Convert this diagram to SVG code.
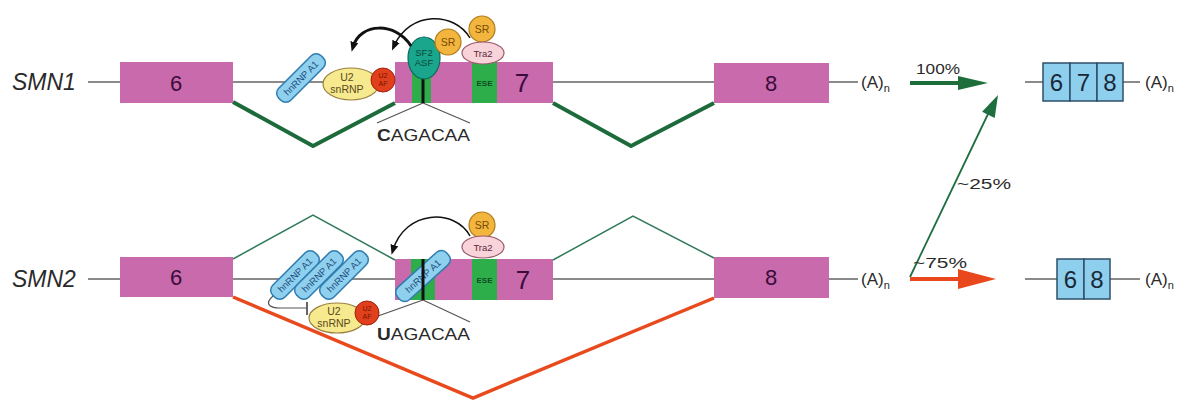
<svg xmlns="http://www.w3.org/2000/svg" width="1194" height="401" viewBox="0 0 1194 401">
  <defs>
    <style>
      text { font-family: "Liberation Sans", Arial, sans-serif; }
      .gene { font-size: 23px; font-style: italic; fill: #2a2a2a; }
      .exon { fill: #c86aab; }
      .num { font-size: 22px; fill: #3a0c3a; text-anchor: middle; }
      .num7 { font-size: 26px; fill: #3a0c3a; text-anchor: middle; }
      .stripe { fill: #2eae4b; }
      .ese { font-size: 8px; fill: #0d4f1f; text-anchor: middle; font-weight: bold; }
      .intron { stroke: #8a8a8a; stroke-width: 2; fill: none; }
      .polyA { font-size: 17px; fill: #2a2a2a; }
      .pct { font-size: 15px; fill: #2a2a2a; }
      .mrna { fill: #8ecfee; stroke: #2c4f6a; stroke-width: 1.5; }
      .mnum { font-size: 24px; fill: #1b2838; text-anchor: middle; }
      .hn { fill: #8fd0ee; stroke: #2f7db0; stroke-width: 1.5; }
      .hnt { font-size: 9.5px; fill: #1d4f80; text-anchor: middle; }
      .u2 { fill: #f6e98e; stroke: #9a8040; stroke-width: 1.2; }
      .u2t { font-size: 10.5px; fill: #5a4a20; text-anchor: middle; }
      .af { fill: #e0401c; stroke: #a02010; stroke-width: 1; }
      .aft { font-size: 7px; fill: #7a1500; text-anchor: middle; }
      .sf2 { fill: #1aa58d; stroke: #0d6b5a; stroke-width: 1.2; }
      .sf2t { font-size: 9.5px; fill: #0a4a3a; text-anchor: middle; }
      .sr { fill: #f2b53e; stroke: #b07a1a; stroke-width: 1.2; }
      .srt { font-size: 10.5px; fill: #7a4a00; text-anchor: middle; }
      .tra { fill: #f9d3da; stroke: #9a5a6a; stroke-width: 1.2; }
      .trat { font-size: 9.5px; fill: #5a2a3a; text-anchor: middle; }
      .stem { stroke: #111; stroke-width: 3; }
      .thin { stroke: #555; stroke-width: 1.2; fill: none; }
      .seq { font-size: 16px; fill: #2a2a2a; }
      .inc { stroke: #1d6b3a; stroke-width: 4; fill: none; stroke-linejoin: miter; }
      .alt { stroke: #2f7a58; stroke-width: 1.5; fill: none; }
      .skip { stroke: #e8491d; stroke-width: 3.5; fill: none; }
      .act { stroke: #111; fill: none; marker-end: url(#head); }
    </style>
    <marker id="head" viewBox="0 0 10 10" refX="5" refY="5" markerWidth="10" markerHeight="10" markerUnits="userSpaceOnUse" orient="auto">
      <path d="M0,1 L10,5 L0,9 Z" fill="#111"/>
    </marker>
  </defs>

  <rect width="1194" height="401" fill="#ffffff"/>

  <!-- pre-mRNA backbones -->
  <g id="backbones">
    <line class="intron" x1="88" y1="82" x2="858" y2="82"/>
    <line class="intron" x1="88" y1="279" x2="858" y2="279"/>
  </g>

  <!-- splice paths and isoform arrows -->
  <g id="connectors">
    <polyline class="inc" points="233,102 313,146 395,103"/>
    <polyline class="inc" points="553,103 631,146 714,103"/>
    <polyline class="alt" points="233,259 313,215 395,260"/>
    <polyline class="alt" points="553,260 633,216 714,258"/>
    <polyline class="skip" points="233,297 473,398 714,298"/>
    <!-- SMN1 -> full length -->
    <line x1="910" y1="83" x2="962" y2="83" stroke="#1d6e3a" stroke-width="4"/>
    <polygon points="958,76 988,83 958,90" fill="#1d6e3a"/>
    <!-- SMN2 -> full length -->
    <line x1="910" y1="277" x2="988" y2="114" stroke="#1f6e3f" stroke-width="1.8"/>
    <polygon points="998,95 994.7,117.9 982.1,111.7" fill="#1f6e3f"/>
    <!-- SMN2 -> delta7 -->
    <line x1="910" y1="279" x2="962" y2="279" stroke="#e8481c" stroke-width="4"/>
    <polygon points="958,269 996,279 958,289" fill="#e8481c"/>
  </g>

  <!-- SMN1 gene -->
  <g id="smn1">
    <text class="gene" x="12" y="90">SMN1</text>
    <g id="smn1-exon6">
      <rect class="exon" x="120" y="62" width="113" height="41"/>
      <text class="num" x="176" y="91">6</text>
    </g>
    <g id="smn1-exon7">
      <rect class="exon" x="395" y="62" width="158" height="41"/>
      <rect class="stripe" x="412" y="62" width="19" height="41"/>
      <rect class="stripe" x="472" y="62" width="25" height="41"/>
      <text class="ese" x="484.5" y="86">ESE</text>
      <text class="num7" x="522" y="92">7</text>
    </g>
    <g id="smn1-exon8">
      <rect class="exon" x="714" y="63" width="115" height="40"/>
      <text class="num" x="771" y="91">8</text>
    </g>
    <text class="polyA" x="861" y="88">(A)<tspan font-size="11" dy="4">n</tspan></text>
    <text class="pct" x="916" y="74" textLength="44" lengthAdjust="spacingAndGlyphs">100%</text>
  </g>

  <!-- SMN1 splicing factors -->
  <g id="smn1-factors">
    <g id="smn1-hnrnp" transform="translate(301,78) rotate(-45)">
      <rect class="hn" x="-30" y="-8.5" width="60" height="17" rx="7"/>
      <text class="hnt" x="0" y="3.5">hnRNP A1</text>
    </g>
    <g id="smn1-u2snrnp">
      <ellipse class="u2" cx="351" cy="84" rx="28" ry="16"/>
      <text class="u2t" x="347" y="81">U2</text>
      <text class="u2t" x="347" y="93">snRNP</text>
    </g>
    <g id="smn1-u2af">
      <circle class="af" cx="383" cy="80" r="12"/>
      <text class="aft" x="383" y="78">U2</text>
      <text class="aft" x="383" y="86">AF</text>
    </g>
    <g id="smn1-sf2">
      <line class="thin" x1="423" y1="103" x2="377" y2="123"/>
      <line class="thin" x1="423" y1="103" x2="470" y2="123"/>
      <line class="stem" x1="423" y1="78" x2="423" y2="103"/>
      <ellipse class="sf2" cx="424" cy="58" rx="16" ry="21"/>
      <text class="sf2t" x="424" y="56">SF2</text>
      <text class="sf2t" x="424" y="66">ASF</text>
      <text class="seq" x="377" y="141" textLength="93" lengthAdjust="spacingAndGlyphs"><tspan font-weight="bold">C</tspan>AGACAA</text>
    </g>
    <g id="smn1-sr">
      <circle class="sr" cx="448" cy="42" r="13"/>
      <text class="srt" x="448" y="46">SR</text>
    </g>
    <g id="smn1-tra2">
      <circle class="sr" cx="482" cy="29" r="13"/>
      <text class="srt" x="482" y="33">SR</text>
      <ellipse class="tra" cx="483" cy="53" rx="21" ry="11"/>
      <text class="trat" x="483" y="56.5">Tra2</text>
    </g>
    <path class="act" stroke-width="1.5" d="M470,38 C455,12 410,10 394,46"/>
    <path class="act" stroke-width="3" d="M411,46 C396,22 360,22 353,47"/>
  </g>

  <!-- SMN2 gene -->
  <g id="smn2">
    <text class="gene" x="12" y="287">SMN2</text>
    <g id="smn2-exon6">
      <rect class="exon" x="120" y="257" width="113" height="40"/>
      <text class="num" x="176" y="285">6</text>
    </g>
    <g id="smn2-exon7">
      <rect class="exon" x="395" y="259" width="158" height="41"/>
      <rect class="stripe" x="411" y="259" width="24" height="41"/>
      <rect class="stripe" x="472" y="259" width="25" height="41"/>
      <text class="ese" x="484.5" y="283">ESE</text>
      <text class="num7" x="523" y="289">7</text>
    </g>
    <g id="smn2-exon8">
      <rect class="exon" x="714" y="257" width="115" height="41"/>
      <text class="num" x="771" y="285">8</text>
    </g>
    <text class="polyA" x="861" y="285">(A)<tspan font-size="11" dy="4">n</tspan></text>
    <text class="pct" x="913" y="268" textLength="54" lengthAdjust="spacingAndGlyphs">~75%</text>
    <text class="pct" x="957" y="189" textLength="54" lengthAdjust="spacingAndGlyphs">~25%</text>
  </g>

  <!-- SMN2 splicing factors -->
  <g id="smn2-factors">
    <path class="thin" stroke-width="1.5" d="M273,296 C265,303 268,308 280,308 L306,308"/>
    <line stroke="#555" stroke-width="1.8" x1="307" y1="302" x2="307" y2="315"/>
    <g id="smn2-hnrnp1" transform="translate(295,275) rotate(-45)">
      <rect class="hn" x="-30" y="-8.5" width="60" height="17" rx="7"/>
      <text class="hnt" x="0" y="3.5">hnRNP A1</text>
    </g>
    <g id="smn2-hnrnp2" transform="translate(319,275) rotate(-45)">
      <rect class="hn" x="-30" y="-8.5" width="60" height="17" rx="7"/>
      <text class="hnt" x="0" y="3.5">hnRNP A1</text>
    </g>
    <g id="smn2-hnrnp3" transform="translate(344,275) rotate(-45)">
      <rect class="hn" x="-30" y="-8.5" width="60" height="17" rx="7"/>
      <text class="hnt" x="0" y="3.5">hnRNP A1</text>
    </g>
    <g id="smn2-hnrnp4" transform="translate(423,276) rotate(-42)">
      <rect class="hn" x="-33" y="-8.5" width="66" height="17" rx="7"/>
      <text class="hnt" x="0" y="3.5">hnRNP A1</text>
    </g>
    <line class="thin" x1="378" y1="316" x2="423" y2="300"/>
    <line class="thin" x1="423" y1="300" x2="470" y2="322"/>
    <line class="stem" x1="423" y1="259" x2="423" y2="300"/>
    <g id="smn2-u2snrnp">
      <ellipse class="u2" cx="337" cy="318" rx="28" ry="15"/>
      <text class="u2t" x="334" y="315">U2</text>
      <text class="u2t" x="334" y="327">snRNP</text>
    </g>
    <g id="smn2-u2af">
      <circle class="af" cx="367" cy="313" r="12"/>
      <text class="aft" x="367" y="311">U2</text>
      <text class="aft" x="367" y="319">AF</text>
    </g>
    <text class="seq" x="377" y="340" textLength="93" lengthAdjust="spacingAndGlyphs"><tspan font-weight="bold">U</tspan>AGACAA</text>
    <g id="smn2-tra2">
      <circle class="sr" cx="482" cy="225" r="13"/>
      <text class="srt" x="482" y="229">SR</text>
      <ellipse class="tra" cx="483" cy="247" rx="21" ry="11"/>
      <text class="trat" x="483" y="250.5">Tra2</text>
    </g>
    <path class="act" stroke-width="1.5" d="M470,236 C455,208 405,210 393,250"/>
  </g>

  <!-- mature transcripts -->
  <g id="mrna-full">
    <line class="intron" x1="1025" y1="82" x2="1043" y2="82"/>
    <line class="intron" x1="1123" y1="82" x2="1140" y2="82"/>
    <rect class="mrna" x="1043" y="63" width="27" height="38"/>
    <rect class="mrna" x="1070" y="63" width="27" height="38"/>
    <rect class="mrna" x="1097" y="63" width="26" height="38"/>
    <text class="mnum" x="1056.5" y="91">6</text>
    <text class="mnum" x="1083.5" y="91">7</text>
    <text class="mnum" x="1110" y="91">8</text>
    <text class="polyA" x="1145" y="88">(A)<tspan font-size="11" dy="4">n</tspan></text>
  </g>
  <g id="mrna-delta7">
    <line class="intron" x1="1025" y1="279" x2="1057" y2="279"/>
    <line class="intron" x1="1110" y1="279" x2="1140" y2="279"/>
    <rect class="mrna" x="1057" y="259" width="27" height="40"/>
    <rect class="mrna" x="1084" y="259" width="26" height="40"/>
    <text class="mnum" x="1070.5" y="288">6</text>
    <text class="mnum" x="1097" y="288">8</text>
    <text class="polyA" x="1145" y="285">(A)<tspan font-size="11" dy="4">n</tspan></text>
  </g>
</svg>
